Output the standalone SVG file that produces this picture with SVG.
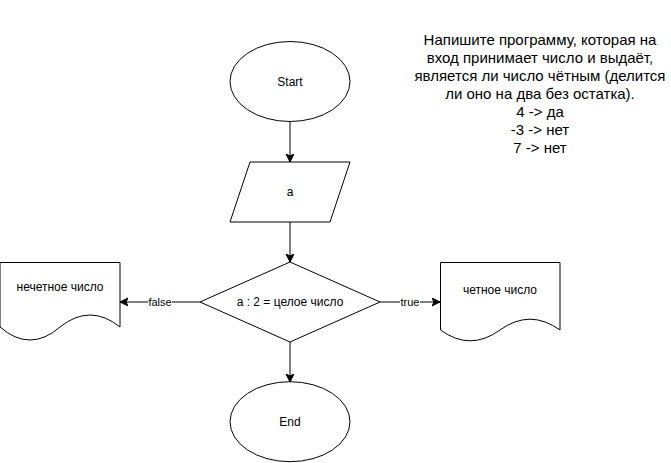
<svg xmlns="http://www.w3.org/2000/svg" width="671" height="463" viewBox="0 0 671 463">
<style>
.s{fill:#fff;stroke:#000;stroke-width:1}
.t{font-family:"Liberation Sans",Arial,sans-serif;font-size:12px;fill:#000;text-anchor:middle}
.c{fill:none;stroke:#000;stroke-width:1}
.l{font-family:"Liberation Sans",Arial,sans-serif;font-size:11px;fill:#000;text-anchor:middle}
.n{font-family:"Liberation Sans",Arial,sans-serif;font-size:15px;fill:#000;text-anchor:middle}
</style>
<defs>
<marker id="arr" markerUnits="userSpaceOnUse" markerWidth="10" markerHeight="10" refX="8" refY="4" orient="auto">
<path d="M0,0 L8,4 L0,8 L2,4 Z" fill="#000" stroke="#000" stroke-width="1"/>
</marker>
</defs>
<rect width="671" height="463" fill="#fff"/>
<g id="connectors">
<path class="c" d="M290,121.5 L290,162" marker-end="url(#arr)"/>
<path class="c" d="M290,222 L290,262" marker-end="url(#arr)"/>
<path class="c" d="M290,342 L290,382" marker-end="url(#arr)"/>
<path class="c" d="M200,302 L120,302" marker-end="url(#arr)"/>
<path class="c" d="M380,302 L440,302" marker-end="url(#arr)"/>
<rect x="148" y="295" width="24" height="13" fill="#fff"/>
<text class="l" x="160" y="306">false</text>
<rect x="400" y="295" width="20" height="13" fill="#fff"/>
<text class="l" x="410" y="306">true</text>
</g>
<g id="start">
<ellipse class="s" cx="290" cy="81.5" rx="60" ry="40"/>
<text class="t" x="290" y="86">Start</text>
</g>
<g id="input">
<path class="s" d="M250,162 L350,162 L330,222 L230,222 Z"/>
<text class="t" x="290" y="196">a</text>
</g>
<g id="decision">
<path class="s" d="M290,262 L380,302 L290,342 L200,302 Z"/>
<text class="t" x="290" y="306">a : 2 = целое число</text>
</g>
<g id="odd">
<path class="s" d="M0,262.5 L120,262.5 L120,327 Q90,303 60,327 Q30,353 0,327 Z"/>
<text class="t" x="60" y="290.5">нечетное число</text>
</g>
<g id="even">
<path class="s" d="M440.5,262.5 L560,262.5 L560,330 Q530,308.4 500,330 Q470,351.6 440.5,330 Z"/>
<text class="t" x="500" y="293.5">четное число</text>
</g>
<g id="end">
<ellipse class="s" cx="290" cy="421.7" rx="60" ry="40"/>
<text class="t" x="290" y="426">End</text>
</g>
<g id="note">
<text class="n" x="540" y="45">Напишите программу, которая на</text>
<text class="n" x="540" y="63">вход принимает число и выдаёт,</text>
<text class="n" x="540" y="81">является ли число чётным (делится</text>
<text class="n" x="540" y="99">ли оно на два без остатка).</text>
<text class="n" x="540" y="117">4 -&gt; да</text>
<text class="n" x="540" y="135">-3 -&gt; нет</text>
<text class="n" x="540" y="153">7 -&gt; нет</text>
</g>
</svg>
